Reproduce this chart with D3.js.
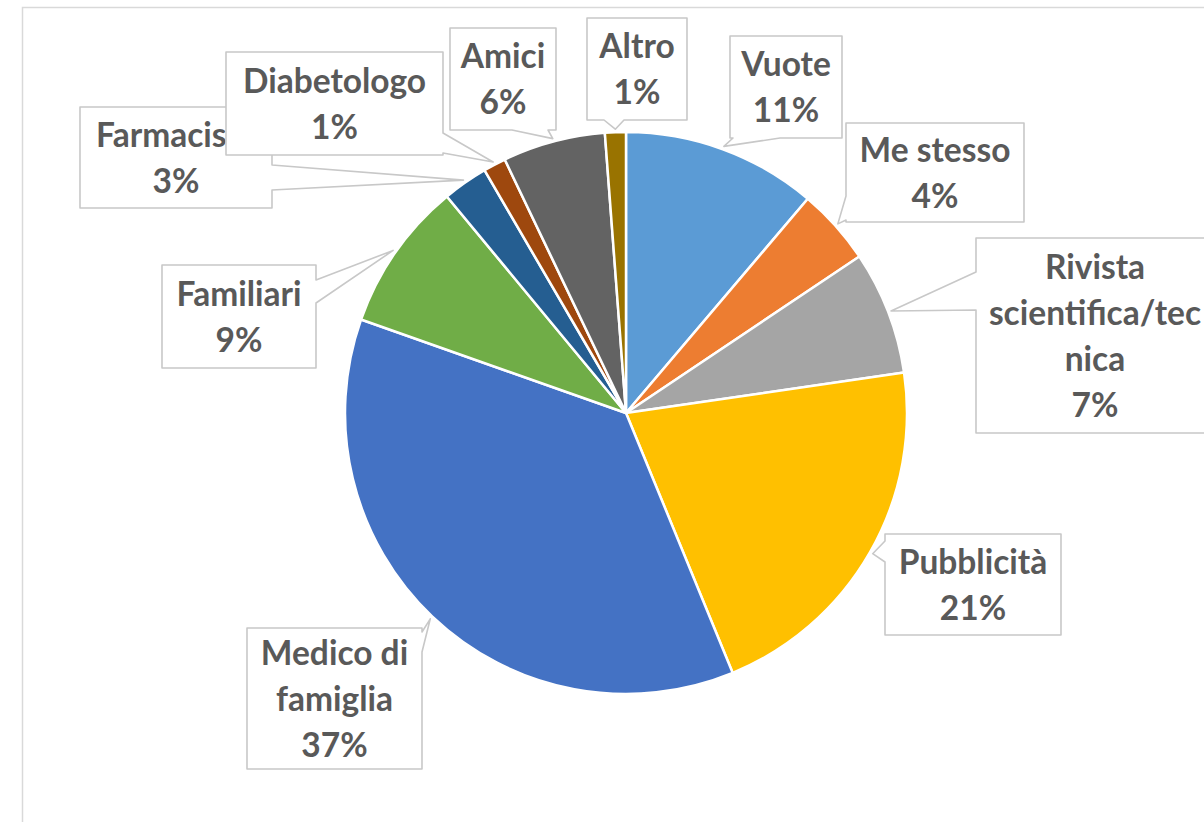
<!DOCTYPE html>
<html>
<head>
<meta charset="utf-8">
<script src="https://cdnjs.cloudflare.com/ajax/libs/d3/7.8.5/d3.min.js"></script>
<style>
  body { margin: 0; background: #fff; }
  svg { display: block; }
</style>
</head>
<body>
<div id="chart"></div>
<script>
// data (clockwise from 12 o'clock)
let categories = ["Vuote", "Me stesso", "Rivista scientifica/tecnica", "Pubblicità",
                  "Medico di famiglia", "Familiari", "Farmacista", "Diabetologo", "Amici", "Altro"];
let values = [11.2, 4.4, 7.1, 21.1, 36.6, 8.6, 2.6, 1.3, 5.9, 1.2];
let colors = ["#5B9BD5", "#ED7D31", "#A5A5A5", "#FFC000", "#4472C4",
              "#70AD47", "#255E91", "#9E480E", "#636363", "#997300"];

// label text lines as wrapped in the picture
let labelLines = [["Vuote"], ["Me stesso"], ["Rivista", "scientifica/tec", "nica"], ["Pubblicità"],
                  ["Medico di", "famiglia"], ["Familiari"], ["Farmacista"], ["Diabetologo"], ["Amici"], ["Altro"]];

// callout boxes: [x0, y0, x1, y1], side the pointer leaves from, and its base on that side
let boxes = [
  {b: [730, 36, 842, 138],   side: "bottom", base: [733, 780]},
  {b: [846, 123, 1024, 222], side: "left",   base: [196, 220]},
  {b: [976, 238, 1214, 433], side: "left",   base: [272, 310]},
  {b: [885, 534, 1061, 635], side: "left",   base: [541, 562]},
  {b: [247, 628, 422, 769],  side: "right",  base: [632, 652]},
  {b: [162, 265, 316, 368],  side: "right",  base: [280, 303]},
  {b: [80, 107, 272, 208],   side: "right",  base: [165, 190]},
  {b: [226, 52, 443, 155],   side: "right",  base: [133, 153]},
  {b: [450, 28, 556, 130],   side: "bottom", base: [512, 548]},
  {b: [587, 18, 687, 120],   side: "bottom", base: [604, 624]}
];

let width = 1204, height = 822;
let cx = 626, cy = 413, radius = 281;

let svg = d3.select("#chart")
    .append("svg")
    .attr("width", width)
    .attr("height", height);

// faint chart-area frame
svg.append("path")
    .attr("d", "M22.5," + height + " V7.5 H" + width)
    .attr("fill", "none")
    .attr("stroke", "#d9d9d9")
    .attr("stroke-width", 1.5);

let pie = d3.pie().sort(null).value(function(d) { return d; });
let arcs = pie(values);

let arc = d3.arc().innerRadius(0).outerRadius(radius);
let tipArc = d3.arc().innerRadius(radius + 3).outerRadius(radius + 3);

let g = svg.append("g").attr("transform", "translate(" + cx + "," + cy + ")");

g.selectAll(".slice")
    .data(arcs)
    .enter().append("path")
    .attr("class", "slice")
    .attr("d", arc)
    .attr("fill", function(d, i) { return colors[i]; })
    .attr("stroke", "#fff")
    .attr("stroke-width", 2.5)
    .attr("stroke-linejoin", "round");

function calloutPath(box, tip) {
  let x0 = box.b[0], y0 = box.b[1], x1 = box.b[2], y1 = box.b[3];
  let a = box.base[0], b = box.base[1];
  let t = tip[0] + "," + tip[1];
  if (box.side === "left")
    return "M" + x0 + "," + y0 + "L" + x1 + "," + y0 + "L" + x1 + "," + y1 + "L" + x0 + "," + y1 +
           "L" + x0 + "," + b + "L" + t + "L" + x0 + "," + a + "Z";
  if (box.side === "right")
    return "M" + x0 + "," + y0 + "L" + x1 + "," + y0 + "L" + x1 + "," + a + "L" + t + "L" + x1 + "," + b +
           "L" + x1 + "," + y1 + "L" + x0 + "," + y1 + "Z";
  if (box.side === "bottom")
    return "M" + x0 + "," + y0 + "L" + x1 + "," + y0 + "L" + x1 + "," + y1 + "L" + b + "," + y1 +
           "L" + t + "L" + a + "," + y1 + "L" + x0 + "," + y1 + "Z";
  return "M" + x0 + "," + y0 + "L" + a + "," + y0 + "L" + t + "L" + b + "," + y0 + "L" + x1 + "," + y0 +
         "L" + x1 + "," + y1 + "L" + x0 + "," + y1 + "Z";
}

let lineGap = 46;

let label = svg.selectAll(".label")
    .data(arcs)
    .enter().append("g")
    .attr("class", "label");

label.append("path")
    .attr("d", function(d, i) {
      let c = tipArc.centroid(d);
      return calloutPath(boxes[i], [cx + c[0], cy + c[1]]);
    })
    .attr("fill", "#fff")
    .attr("stroke", "#c8c8c8")
    .attr("stroke-width", 1.6)
    .attr("stroke-linejoin", "round");

label.each(function(d, i) {
  let box = boxes[i].b;
  let lines = labelLines[i].concat([Math.round(d.value) + "%"]);
  let mx = (box[0] + box[2]) / 2, my = (box[1] + box[3]) / 2;
  let first = my - (lines.length - 1) * lineGap / 2;
  let sel = d3.select(this);
  lines.forEach(function(t, k) {
    sel.append("text")
      .attr("x", mx)
      .attr("y", first + k * lineGap + 12)
      .attr("text-anchor", "middle")
      .attr("font-family", "Lato, 'Open Sans', sans-serif")
      .attr("font-weight", "bold")
      .attr("font-size", "33.5px")
      .attr("fill", "#595959")
      .text(t);
  });
});

// Farmacista box sits under Diabetologo: raise Diabetologo
label.filter(function(d, i) { return i === 7; }).raise();
</script>
</body>
</html>
